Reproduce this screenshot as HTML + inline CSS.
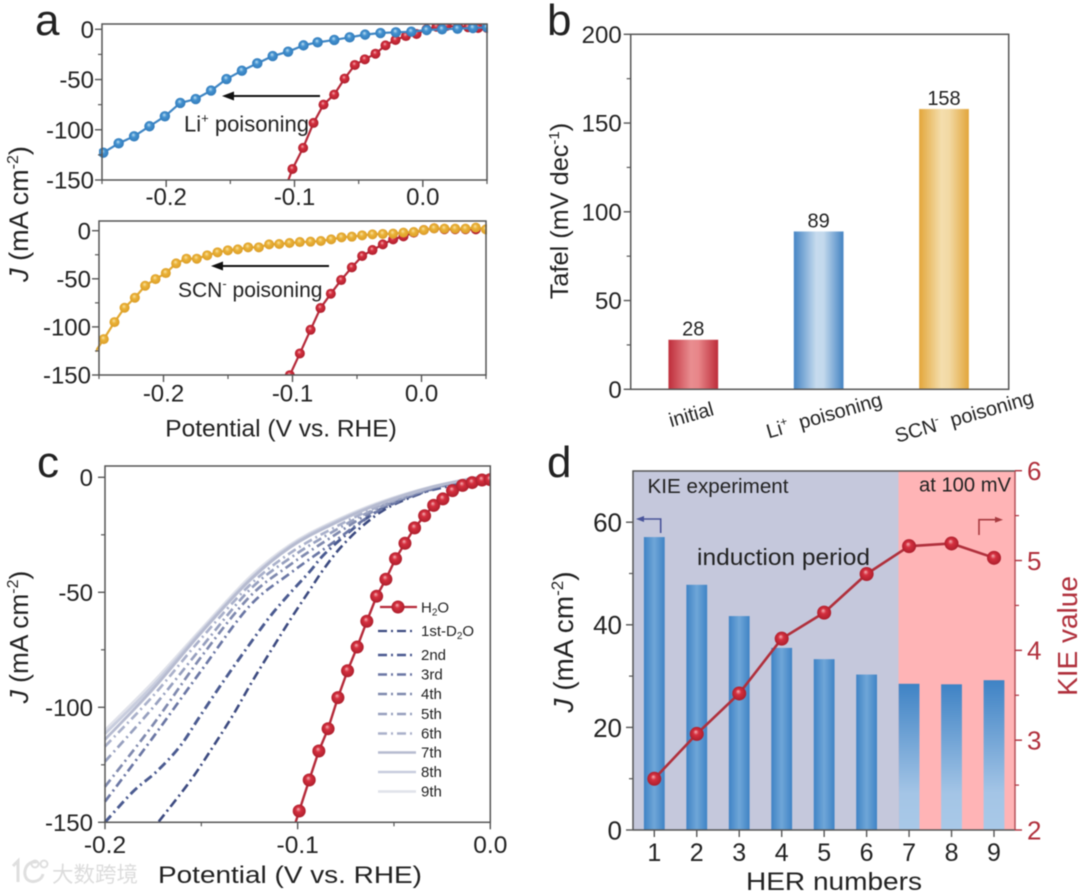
<!DOCTYPE html>
<html lang="en">
<head>
<meta charset="utf-8">
<title>Poisoning and KIE electrochemistry figure</title>
<style>
html,body{margin:0;padding:0;background:#fff;width:1080px;height:893px;overflow:hidden}
svg{display:block;filter:blur(.5px)}
text{font-family:"Liberation Sans","Noto Sans CJK SC",sans-serif;fill:#222}
</style>
</head>
<body>
<svg id="fig" xmlns="http://www.w3.org/2000/svg" width="1080" height="893" viewBox="0 0 1080 893">
<defs>
<radialGradient id="ballRed" cx=".5" cy=".5" r=".55" fx=".42" fy=".34"><stop offset="0" stop-color="#f6b4b8"/><stop offset=".35" stop-color="#d5303f"/><stop offset="1" stop-color="#a81c2a"/></radialGradient>
<radialGradient id="ballBlue" cx=".5" cy=".5" r=".55" fx=".42" fy=".34"><stop offset="0" stop-color="#bfe2f6"/><stop offset=".4" stop-color="#4391cf"/><stop offset="1" stop-color="#2f78b8"/></radialGradient>
<radialGradient id="ballYellow" cx=".5" cy=".5" r=".55" fx=".42" fy=".34"><stop offset="0" stop-color="#fbe6a8"/><stop offset=".4" stop-color="#eab238"/><stop offset="1" stop-color="#d99a25"/></radialGradient>
<linearGradient id="barRed" x1="0" x2="1" y1="0" y2="0"><stop offset="0" stop-color="#bf2c3a"/><stop offset=".45" stop-color="#e98d90"/><stop offset=".6" stop-color="#e88689"/><stop offset="1" stop-color="#bd2b39"/></linearGradient>
<linearGradient id="barBlue" x1="0" x2="1" y1="0" y2="0"><stop offset="0" stop-color="#4484c4"/><stop offset=".45" stop-color="#c6dbee"/><stop offset=".6" stop-color="#c3d9ed"/><stop offset="1" stop-color="#4282c2"/></linearGradient>
<linearGradient id="barYellow" x1="0" x2="1" y1="0" y2="0"><stop offset="0" stop-color="#e3a63a"/><stop offset=".45" stop-color="#f4dead"/><stop offset=".6" stop-color="#f2d9a4"/><stop offset="1" stop-color="#e2a53a"/></linearGradient>
<linearGradient id="barDH" x1="0" x2="1" y1="0" y2="0"><stop offset="0" stop-color="#3f83c5"/><stop offset=".5" stop-color="#6fa6d8"/><stop offset="1" stop-color="#3f83c5"/></linearGradient>
<linearGradient id="barDV" x1="0" x2="0" y1="0" y2="1"><stop offset="0" stop-color="#3f83c5"/><stop offset=".75" stop-color="#a4c5e6"/><stop offset="1" stop-color="#a9c9e8"/></linearGradient>
<clipPath id="clipAT"><rect x="99" y="24" width="389" height="156"/></clipPath>
<clipPath id="clipAB"><rect x="96" y="221" width="391" height="154"/></clipPath>
<clipPath id="clipC"><rect x="102" y="466" width="389" height="356.5"/></clipPath>
<marker id="headK" viewBox="0 0 10 10" refX="0" refY="5" markerWidth="12" markerHeight="9" markerUnits="userSpaceOnUse" orient="auto" preserveAspectRatio="none"><path d="M0 0 L10 5 L0 10 Z" fill="#111"/></marker>
<marker id="headB" viewBox="0 0 10 10" refX="0" refY="5" markerWidth="8" markerHeight="6" markerUnits="userSpaceOnUse" orient="auto" preserveAspectRatio="none"><path d="M0 0 L10 5 L0 10 Z" fill="#49549a"/></marker>
<marker id="headR" viewBox="0 0 10 10" refX="0" refY="5" markerWidth="8" markerHeight="6" markerUnits="userSpaceOnUse" orient="auto" preserveAspectRatio="none"><path d="M0 0 L10 5 L0 10 Z" fill="#a83a40"/></marker>
</defs>

<text x="35" y="35" font-size="44" fill="#111">a</text>
<text x="547" y="35" font-size="44" fill="#111">b</text>
<text x="37" y="477" font-size="44" fill="#111">c</text>
<text x="547" y="477" font-size="44" fill="#111">d</text>

<g id="panelD">
<rect x="633" y="471" width="265.5" height="359" fill="#c5c8dc"/>
<rect x="898.5" y="471" width="116.5" height="359" fill="#ffb4b6"/>
</g>

<g id="panelAT"></g>
<g id="panelAB"></g>
<g id="panelB"></g>
<g id="panelC"></g>
<g id="panelD2"></g>

<line x1="320" y1="96" x2="234" y2="96" stroke="#111" stroke-width="2" marker-end="url(#headK)"/>
<text x="184" y="131.5" font-size="22">Li<tspan font-size="13" dy="-9">+</tspan><tspan dy="9"> poisoning</tspan></text>
<line x1="329" y1="266" x2="223" y2="266" stroke="#111" stroke-width="2" marker-end="url(#headK)"/>
<text x="178" y="297" font-size="21">SCN<tspan font-size="13" dy="-9">-</tspan><tspan dy="9"> poisoning</tspan></text>

<text transform="translate(28,214) rotate(-90)" text-anchor="middle" font-size="27"><tspan font-style="italic">J</tspan> (mA cm<tspan font-size="16" dy="-10">-2</tspan><tspan dy="10">)</tspan></text>
<text x="281" y="436.5" text-anchor="middle" font-size="24.5">Potential (V vs. RHE)</text>
<text transform="translate(568,211) rotate(-90)" text-anchor="middle" font-size="25.3">Tafel (mV dec<tspan font-size="15" dy="-9">-1</tspan><tspan dy="9">)</tspan></text>
<text transform="translate(28,637) rotate(-90)" text-anchor="middle" font-size="26.3"><tspan font-style="italic">J</tspan> (mA cm<tspan font-size="16" dy="-10">-2</tspan><tspan dy="10">)</tspan></text>
<text x="158" y="883" font-size="24.5" textLength="264" lengthAdjust="spacingAndGlyphs">Potential (V vs. RHE)</text>
<text transform="translate(573,642) rotate(-90)" text-anchor="middle" font-size="28"><tspan font-style="italic">J</tspan> (mA cm<tspan font-size="17" dy="-10">-2</tspan><tspan dy="10">)</tspan></text>
<text transform="translate(1077,636) rotate(-90)" text-anchor="middle" font-size="28" style="fill:#b0303c">KIE value</text>
<text x="746" y="890" font-size="25" textLength="176" lengthAdjust="spacingAndGlyphs">HER numbers</text>

<text x="647.5" y="493" font-size="20" textLength="141" lengthAdjust="spacingAndGlyphs">KIE experiment</text>
<text x="919" y="491.5" font-size="20" textLength="92" lengthAdjust="spacingAndGlyphs">at 100 mV</text>
<text x="697" y="565" font-size="23" textLength="173" lengthAdjust="spacingAndGlyphs">induction period</text>
<polyline points="660.7,533 660.7,519 644,519" fill="none" stroke="#49549a" stroke-width="1.6" marker-end="url(#headB)"/>
<polyline points="979,535 979,519.7 995,519.7" fill="none" stroke="#a83a40" stroke-width="1.6" marker-end="url(#headR)"/>

<g>
<g><line x1="380" y1="607" x2="417" y2="607" stroke="#b52a3a" stroke-width="2.2"/><circle cx="398" cy="607" r="6.5" fill="url(#ballRed)"/><text x="421" y="612.5" font-size="15">H<tspan font-size="10" dy="3">2</tspan><tspan dy="-3">O</tspan></text></g>
<g><line x1="378" y1="631" x2="416" y2="631" stroke="#3c4a80" stroke-width="2.2" stroke-dasharray="9 4 2 4"/><text x="421" y="636" font-size="15">1st-D<tspan font-size="10" dy="3">2</tspan><tspan dy="-3">O</tspan></text></g>
<g><line x1="378" y1="655" x2="416" y2="655" stroke="#4a5a90" stroke-width="2.6" stroke-dasharray="9 4 2 4"/><text x="421" y="660" font-size="15">2nd</text></g>
<g><line x1="378" y1="674.5" x2="416" y2="674.5" stroke="#6a76a4" stroke-width="2.4" stroke-dasharray="9 4 2 4"/><text x="421" y="679.5" font-size="15">3rd</text></g>
<g><line x1="378" y1="694" x2="416" y2="694" stroke="#7f89ae" stroke-width="2.4" stroke-dasharray="9 4 2 4"/><text x="421" y="699" font-size="15">4th</text></g>
<g><line x1="378" y1="714" x2="416" y2="714" stroke="#969fbe" stroke-width="2.4" stroke-dasharray="9 4 2 4"/><text x="421" y="719" font-size="15">5th</text></g>
<g><line x1="378" y1="733.5" x2="416" y2="733.5" stroke="#a9b0ca" stroke-width="2.4" stroke-dasharray="9 4 2 4"/><text x="421" y="738.5" font-size="15">6th</text></g>
<g><line x1="378" y1="752.5" x2="416" y2="752.5" stroke="#b6bbd0" stroke-width="2.6"/><text x="421" y="757.5" font-size="15">7th</text></g>
<g><line x1="378" y1="772" x2="416" y2="772" stroke="#c8cdde" stroke-width="2.6"/><text x="421" y="777" font-size="15">8th</text></g>
<g><line x1="378" y1="791.5" x2="416" y2="791.5" stroke="#e0e2ea" stroke-width="2.6"/><text x="421" y="796.5" font-size="15">9th</text></g>
</g>

<g opacity=".9">
<g fill="none" stroke="#dcdcdc" stroke-width="3"><path d="M13 866 L18 861 L18 882"/><path d="M37 862 C24 860 21 878 30 881 C36 883 42 879 43 874"/><circle cx="35" cy="864" r="3.5" stroke-width="2"/><circle cx="44" cy="864" r="3.5" stroke-width="2"/></g>
<text x="52" y="882" font-size="21.5" style="fill:#d9d9d9;font-family:'Liberation Sans','Noto Sans CJK SC',sans-serif">大数跨境</text>
</g>
</svg>

<script>
// Panel a, upper plot: Li+ poisoning
const aTopBlueV = [-0.249,-0.237,-0.225,-0.213,-0.201,-0.189,-0.177,-0.165,-0.153,-0.141,-0.129,-0.117,-0.105,-0.093,-0.082,-0.069,-0.057,-0.045,-0.033,-0.021,-0.009,0.003,0.015,0.027,0.039,0.05];
const aTopBlueJ = [-122.8,-113.5,-106.5,-96.5,-86.6,-73.3,-69.4,-61,-49.5,-41.2,-33.9,-26.6,-22.3,-16,-13,-10.6,-8,-5.3,-3.7,-3,-2.4,-0.7,0,0.6,1.3,2];
const aTopRedV = [-0.1068,-0.1016,-0.0933,-0.0852,-0.0774,-0.0691,-0.061,-0.053,-0.0452,-0.0369,-0.0291,-0.0213,-0.0132,-0.0049,0.0029,0.0107,0.0185,0.0275,0.0353,0.0431,0.05];
const aTopRedJ = [-157,-139,-118,-93.2,-75,-65,-49.1,-35.5,-29.9,-24.3,-16,-10.6,-6.7,-4.7,0,2.6,3.3,2.6,2,1.3,1.3];
// Panel a, lower plot: SCN- poisoning
const aBotYellowV = [-0.257,-0.2463,-0.238,-0.2302,-0.2222,-0.2142,-0.2062,-0.1982,-0.1902,-0.1822,-0.1742,-0.1661,-0.1581,-0.1501,-0.1424,-0.1344,-0.1261,-0.1181,-0.1103,-0.1023,-0.0943,-0.086,-0.078,-0.07,-0.062,-0.054,-0.046,-0.038,-0.03,-0.022,-0.014,-0.006,0.0018,0.0098,0.0178,0.0261,0.0341,0.0421,0.0499];
const aBotYellowJ = [-134,-112.7,-95,-80.1,-69.7,-57.2,-50.3,-44,-34,-29.1,-29.1,-25.6,-22.5,-20.4,-19.4,-17.3,-17.3,-14.2,-13.8,-12.8,-11.8,-11.4,-10.7,-9,-6.9,-6.2,-4.8,-3.8,-3.4,-3.1,-2,-1.4,0.7,2.5,2.1,2.1,2.1,3.2,1.4];
const aBotRedV = [-0.1021,-0.0943,-0.086,-0.0783,-0.0703,-0.0623,-0.054,-0.046,-0.038,-0.03,-0.022,-0.014,-0.006,0.0018,0.0098,0.0178,0.0261,0.0341,0.0421];
const aBotRedJ = [-150.2,-127.6,-103,-80.4,-65.5,-51.3,-38.1,-26.3,-20.1,-14.2,-9,-5.9,-2,0.7,2.5,1.5,1.5,1.5,1.4];
const aYTicks = [0,-50,-100,-150];
const aYMinor = [-25,-75,-125];
const aXTicks = [-0.2,-0.1,0];
const aXTickLabels = ['-0.2','-0.1','0.0'];
const aXMinor = [-0.25,-0.15,-0.05,0.05];
// Panel b
const bCategories = ['initial','Li+ poisoning','SCN- poisoning'];
const bTafel = [28,89,158];
const bValueLabels = ['28','89','158'];
const bYTicks = [0,50,100,150,200];
const bYMinor = [25,75,125,175];
// Panel c
const cWaterV = [-0.106,-0.0992,-0.094,-0.089,-0.0842,-0.0791,-0.0741,-0.0691,-0.0641,-0.059,-0.0542,-0.0492,-0.0443,-0.0393,-0.0341,-0.0294,-0.0246,-0.0196,-0.0144,-0.0094,-0.0043,0];
const cWaterJ = [-163,-145.1,-131.6,-119,-109.3,-95.8,-84.1,-73.8,-62.6,-51.7,-44.3,-35.4,-28.7,-22,-16.7,-12.2,-9.4,-5.8,-3.5,-2.3,-1.2,-1];
const cRun1V = [-0.1721,-0.156,-0.1439,-0.1335,-0.1231,-0.111,-0.1023,-0.0937,-0.0868,-0.0781,-0.0668,-0.0538,-0.0382,-0.0226,0];
const cRun1J = [-149.7,-132.3,-117.1,-103.3,-88.1,-71.5,-59.9,-49,-40.3,-30.9,-21.5,-13.5,-7.7,-3.3,1];
const cRun2V = [-0.2,-0.1855,-0.1733,-0.1612,-0.1508,-0.1387,-0.1265,-0.1144,-0.104,-0.0937,-0.0868,-0.0764,-0.0642,-0.0521,-0.0348,-0.0175,0];
const cRun2J = [-150,-136.7,-128,-117.1,-104,-88.9,-74.4,-60.6,-50.4,-41,-34,-26,-17.8,-11.8,-6.5,-3,0.7];
const cLaterV = [-0.2,-0.175,-0.15,-0.125,-0.104,-0.0833,-0.0589,-0.03,0];
const cRun3J = [-141,-113,-84,-56,-41.8,-29.4,-15,-5,1];
const cRun4J = [-134.5,-107.5,-78,-52,-38.1,-26.5,-14,-4.8,1];
const cRun5J = [-123.6,-100,-74,-49,-35.2,-24.4,-13.5,-4.5,1];
const cRun6J = [-117,-95,-70,-47,-33,-22.9,-13,-4.4,1];
const cRun7J = [-114,-92,-67.5,-45,-30.5,-21,-12,-4.2,1];
const cRun8J = [-111.5,-90.5,-66.8,-44.5,-30,-20.5,-11.7,-4.1,1];
const cRun9J = [-110,-89,-66,-43.5,-29.4,-20,-11.3,-4,1];
const cYTicks = [0,-50,-100,-150];
const cYMinor = [-25,-75,-125];
const cXTicks = [-0.2,-0.1,0];
const cXTickLabels = ['-0.2','-0.1','0.0'];
const cXMinor = [-0.15,-0.05];
// Panel d
const dRuns = [1,2,3,4,5,6,7,8,9];
const dCurrent = [57.1,47.8,41.7,35.5,33.3,30.3,28.5,28.4,29.2];
const dKie = [2.57,3.07,3.52,4.13,4.42,4.85,5.16,5.19,5.03];
const dLeftTicks = [0,20,40,60];
const dLeftMinor = [10,30,50];
const dRightTicks = [2,3,4,5,6];
const dRightMinor = [2.5,3.5,4.5,5.5];

const NS = 'http://www.w3.org/2000/svg';
const AXIS = '#555';

function node(tag, attrs, parent) {
  const el = document.createElementNS(NS, tag);
  for (const k in attrs) el.setAttribute(k, attrs[k]);
  parent.appendChild(el);
  return el;
}
function linear(d0, d1, r0, r1) {
  return v => r0 + (v - d0) * (r1 - r0) / (d1 - d0);
}
function frame(parent, x0, y0, x1, y1) {
  const el = node('rect', {x:x0, y:y0, width:x1-x0, height:y1-y0, fill:'none', stroke:AXIS, 'stroke-width':1.5}, parent);
  
  
}
function yTicks(parent, values, labels, minor, sy, xAxis, dir, size, color, labelGap) {
  values.forEach((v, i) => {
    const t = node('line', {x1:xAxis, x2:xAxis + dir*7, y1:sy(v), y2:sy(v), stroke:color, 'stroke-width':1.4}, parent);
    
    
    const lab = node('text', {x:xAxis + dir*labelGap, y:sy(v) + size*0.36, 'font-size':size, 'text-anchor':dir < 0 ? 'end' : 'start'}, parent);
    lab.style.fill = color === AXIS ? '#222' : color;
    lab.textContent = labels[i];
    
    
  });
  minor.forEach(v => {
    const t = node('line', {x1:xAxis, x2:xAxis + dir*4, y1:sy(v), y2:sy(v), stroke:color, 'stroke-width':1.2}, parent);
    
    
  });
}
function xTicks(parent, values, labels, minor, sx, yAxis, size, baseline) {
  values.forEach((v, i) => {
    const t = node('line', {x1:sx(v), x2:sx(v), y1:yAxis, y2:yAxis + 7, stroke:AXIS, 'stroke-width':1.4}, parent);
    
    
    const lab = node('text', {x:sx(v), y:baseline, 'font-size':size, 'text-anchor':'middle'}, parent);
    lab.textContent = labels[i];
    
    
  });
  minor.forEach(v => {
    const t = node('line', {x1:sx(v), x2:sx(v), y1:yAxis, y2:yAxis + 4, stroke:AXIS, 'stroke-width':1.2}, parent);
    
    
  });
}
function lineSeries(parent, xs, ys, sx, sy, color, width, name) {
  const pts = xs.map((x, i) => sx(x) + ',' + sy(ys[i])).join(' ');
  const el = node('polyline', {points:pts, fill:'none', stroke:color, 'stroke-width':width, 'stroke-linejoin':'round'}, parent);
  
  
}
function ballSeries(parent, xs, ys, sx, sy, fill, r, name) {
  xs.forEach((x, i) => {
    const c = node('circle', {cx:sx(x), cy:sy(ys[i]), r:r, fill:fill}, parent);
    
    
  });
}
function smoothSeries(parent, xs, ys, sx, sy, color, width, dash, name) {
  const p = xs.map((x, i) => [sx(x), sy(ys[i])]);
  let d = 'M' + p[0][0] + ' ' + p[0][1];
  for (let i = 0; i < p.length - 1; i++) {
    const a = p[Math.max(i-1,0)], b = p[i], c = p[i+1], e = p[Math.min(i+2,p.length-1)];
    d += ' C' + (b[0]+(c[0]-a[0])/6) + ' ' + (b[1]+(c[1]-a[1])/6) + ' ' + (c[0]-(e[0]-b[0])/6) + ' ' + (c[1]-(e[1]-b[1])/6) + ' ' + c[0] + ' ' + c[1];
  }
  const el = node('path', {d:d, fill:'none', stroke:color, 'stroke-width':width}, parent);
  if (dash) el.setAttribute('stroke-dasharray', dash);
  
  
}

/* Panel a, upper */
(function () {
  const g = document.getElementById('panelAT');
  const sx = linear(-0.25, 0.05, 102, 487);
  const sy = linear(0, -150, 29.3, 180);
  const clip = node('g', {'clip-path':'url(#clipAT)'}, g);
  lineSeries(clip, aTopRedV, aTopRedJ, sx, sy, '#b52a3a', 2.2, 'initial-curve-line');
  ballSeries(clip, aTopRedV, aTopRedJ, sx, sy, 'url(#ballRed)', 5, 'initial-curve-point');
  lineSeries(clip, aTopBlueV, aTopBlueJ, sx, sy, '#3f86c4', 2.2, 'li-poisoned-curve-line');
  ballSeries(clip, aTopBlueV, aTopBlueJ, sx, sy, 'url(#ballBlue)', 5.2, 'li-poisoned-curve-point');
  frame(g, 102, 24, 487, 180);
  yTicks(g, aYTicks, aYTicks.map(String), aYMinor, sy, 102, -1, 24, AXIS, 8);
  xTicks(g, aXTicks, aXTickLabels, aXMinor, sx, 180, 24, 205);
})();

/* Panel a, lower */
(function () {
  const g = document.getElementById('panelAB');
  const sx = linear(-0.25, 0.05, 99, 486);
  const sy = linear(0, -150, 230.7, 375);
  const clip = node('g', {'clip-path':'url(#clipAB)'}, g);
  lineSeries(clip, aBotRedV, aBotRedJ, sx, sy, '#b52a3a', 2.2, 'initial-curve-line');
  ballSeries(clip, aBotRedV, aBotRedJ, sx, sy, 'url(#ballRed)', 5, 'initial-curve-point');
  lineSeries(clip, aBotYellowV, aBotYellowJ, sx, sy, '#e2a932', 2.2, 'scn-poisoned-curve-line');
  ballSeries(clip, aBotYellowV, aBotYellowJ, sx, sy, 'url(#ballYellow)', 5, 'scn-poisoned-curve-point');
  frame(g, 99, 221, 486, 375);
  yTicks(g, aYTicks, aYTicks.map(String), aYMinor, sy, 99, -1, 24, AXIS, 8);
  xTicks(g, aXTicks, aXTickLabels, aXMinor, sx, 375, 24, 401.5);
})();

/* Panel b */
(function () {
  const g = document.getElementById('panelB');
  const sy = linear(0, 200, 389.3, 34.3);
  const sx = linear(0, 2, 693.3, 944);
  const fills = ['url(#barRed)','url(#barBlue)','url(#barYellow)'];
  const labelSpots = [[693,421],[826,422],[966,423]];
  bTafel.forEach((v, i) => {
    const bar = node('rect', {x:sx(i)-25, y:sy(v), width:50, height:sy(0)-sy(v), fill:fills[i], stroke:'#fff', 'stroke-opacity':.4, 'stroke-width':.8}, g);
    
    
    const val = node('text', {x:sx(i), y:sy(v)-4, 'font-size':20, 'text-anchor':'middle'}, g);
    val.textContent = bValueLabels[i];
    
    
    const pos = labelSpots[i];
    const cat = node('text', {transform:'translate(' + pos[0] + ',' + pos[1] + ') rotate(-16)', 'font-size':20, 'text-anchor':'middle'}, g);
    const m = bCategories[i].match(/^(\S+?)([+-])( .*)$/);
    if (m) {
      const a = node('tspan', {}, cat); a.textContent = m[1];
      const b = node('tspan', {'font-size':12, dy:-8}, cat); b.textContent = m[2];
      const c = node('tspan', {dy:8}, cat); c.textContent = '\u00a0' + m[3];
    } else {
      cat.textContent = bCategories[i];
    }
    
    
  });
  frame(g, 630.7, 34.3, 1008.7, 389.3);
  yTicks(g, bYTicks, bYTicks.map(String), bYMinor, sy, 630.7, -1, 24, AXIS, 9);
})();

/* Panel c */
(function () {
  const g = document.getElementById('panelC');
  const sx = linear(-0.2, 0, 105, 490.3);
  const sy = linear(0, -150, 477.3, 822.3);
  const clip = node('g', {'clip-path':'url(#clipC)'}, g);
  const dash = '9 4 2 4';
  smoothSeries(clip, cRun1V, cRun1J, sx, sy, '#3c4a80', 2.6, dash, 'd2o-run-1-curve');
  smoothSeries(clip, cRun2V, cRun2J, sx, sy, '#4a5a90', 2.9, dash, 'd2o-run-2-curve');
  smoothSeries(clip, cLaterV, cRun3J, sx, sy, '#6a76a4', 2.7, dash, 'd2o-run-3-curve');
  smoothSeries(clip, cLaterV, cRun4J, sx, sy, '#7f89ae', 2.7, dash, 'd2o-run-4-curve');
  smoothSeries(clip, cLaterV, cRun5J, sx, sy, '#969fbe', 2.7, dash, 'd2o-run-5-curve');
  smoothSeries(clip, cLaterV, cRun6J, sx, sy, '#a9b0ca', 2.7, dash, 'd2o-run-6-curve');
  smoothSeries(clip, cLaterV, cRun9J, sx, sy, '#e0e2ea', 2.8, '', 'd2o-run-9-curve');
  smoothSeries(clip, cLaterV, cRun8J, sx, sy, '#c8cdde', 2.8, '', 'd2o-run-8-curve');
  smoothSeries(clip, cLaterV, cRun7J, sx, sy, '#b6bbd0', 2.8, '', 'd2o-run-7-curve');
  lineSeries(clip, cWaterV, cWaterJ, sx, sy, '#b52a3a', 2.4, 'h2o-curve-line');
  ballSeries(clip, cWaterV, cWaterJ, sx, sy, 'url(#ballRed)', 6.5, 'h2o-curve-point');
  frame(g, 105, 466, 490.3, 822.3);
  yTicks(g, cYTicks, cYTicks.map(String), cYMinor, sy, 105, -1, 24, AXIS, 12);
  xTicks(g, cXTicks, cXTickLabels, cXMinor, sx, 822.3, 24.5, 853);
})();

/* Panel d */
(function () {
  const g = document.getElementById('panelD2');
  const sx = linear(1, 9, 654.3, 994);
  const sy = linear(0, 70, 830, 470.9);
  const sk = linear(2, 6, 830, 470.7);
  dCurrent.forEach((v, i) => {
    const bar = node('rect', {x:sx(dRuns[i])-10.4, y:sy(v), width:20.8, height:sy(0)-sy(v), fill:dRuns[i] < 7 ? 'url(#barDH)' : 'url(#barDV)'}, g);
    
    
  });
  lineSeries(g, dRuns, dKie, sx, sk, '#b0303c', 2.6, 'kie-line');
  ballSeries(g, dRuns, dKie, sx, sk, 'url(#ballRed)', 7, 'kie-point');
  const axes = node('path', {d:'M633 830 H1015 M633 830 V471 H1015', fill:'none', stroke:AXIS, 'stroke-width':1.5}, g);
  
  
  const right = node('line', {x1:1015, x2:1015, y1:471, y2:830, stroke:'#b5525a', 'stroke-width':1.5}, g);
  
  
  yTicks(g, dLeftTicks, dLeftTicks.map(String), dLeftMinor, sy, 633, -1, 26, AXIS, 11);
  yTicks(g, dRightTicks, dRightTicks.map(String), dRightMinor, sk, 1015, 1, 26, '#b0303c', 12);
  xTicks(g, dRuns, dRuns.map(String), [], sx, 830, 25, 861);
})();
</script>
</body>
</html>
